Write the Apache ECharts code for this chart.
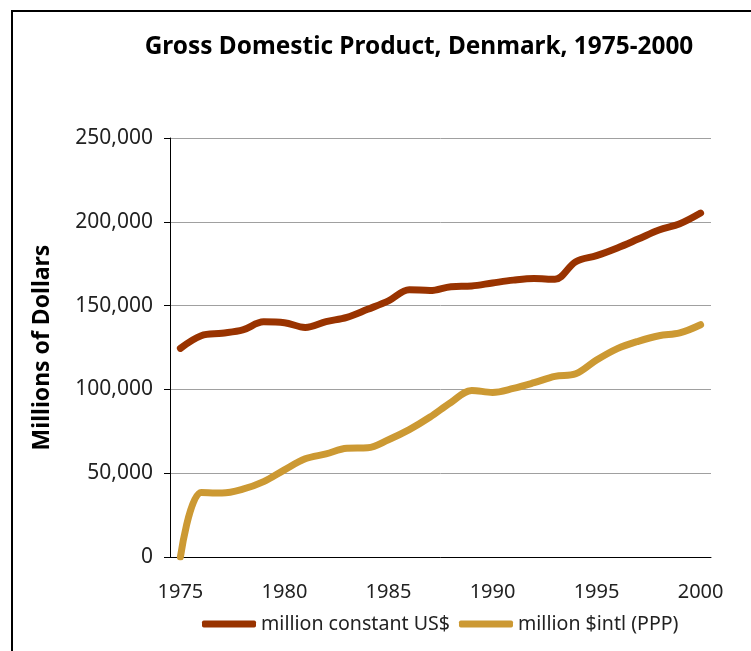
<!DOCTYPE html>
<html>
<head>
<meta charset="utf-8">
<script src="https://cdn.jsdelivr.net/npm/echarts@6/dist/echarts.min.js"></script>
<style>
  html, body { margin: 0; padding: 0; background: #fff; }
  #chart { width: 751px; height: 651px; }
</style>
</head>
<body>
<div id="chart"></div>
<script>
const years = ['1975','1976','1977','1978','1979','1980','1981','1982','1983','1984','1985','1986','1987',
    '1988','1989','1990','1991','1992','1993','1994','1995','1996','1997','1998','1999','2000']
const constantUsd = [124500, 132000, 133500, 135500, 140300, 139800, 137000, 140400, 143000, 147800, 152800,
    159500, 159000, 161300, 161700, 163500, 165200, 166200, 165700, 176200, 179800, 184400, 189700, 195100, 198800, 205200]
const intlPpp = [0, 38500, 38200, 40500, 45000, 52000, 58600, 61500, 64900, 65200, 70000, 76000, 83500,
    92200, 99400, 98200, 100600, 104000, 107800, 109300, 117500, 124300, 128700, 132000, 133700, 138600]
const seriesNames = ['million constant US$', 'million $intl (PPP)']
const seriesColors = ['#993300', '#CC9933']
const font = 'Noto Sans'

window.onload = () => {
    const chart = echarts.init(document.getElementById('chart'))
    const option = {
        animation: false,
        backgroundColor: '#fff',
        graphic: [{
            type: 'rect',
            shape: {x: 12, y: 11, width: 760, height: 680},
            style: {fill: 'none', stroke: '#000', lineWidth: 2},
            silent: true
        }],
        title: {
            text: 'Gross Domestic Product, Denmark, 1975-2000',
            left: 414, top: 30, textAlign: 'center',
            textStyle: {fontFamily: font, fontWeight: 'bold', fontSize: 24.4, color: '#000'}
        },
        grid: {left: 170, right: 40, top: 138, bottom: 94, containLabel: false},
        legend: {
            data: seriesNames,
            left: 202, top: 614, padding: 0,
            itemWidth: 54, itemHeight: 7, itemGap: 9,
            icon: 'roundRect',
            textStyle: {fontFamily: font, fontSize: 19.6, color: '#222'}
        },
        xAxis: {
            type: 'category',
            data: years,
            boundaryGap: true,
            axisLine: {lineStyle: {color: '#000', width: 1}},
            axisTick: {show: false},
            axisLabel: {interval: 4, margin: 25, fontFamily: font, fontSize: 20, color: '#222'}
        },
        yAxis: {
            type: 'value',
            min: 0, max: 250000, interval: 50000,
            name: 'Millions of Dollars',
            nameLocation: 'middle', nameGap: 116,
            nameTextStyle: {fontFamily: font, fontWeight: 'bold', fontSize: 23, color: '#000'},
            axisLine: {show: true, lineStyle: {color: '#000', width: 1}},
            axisTick: {show: true, length: 6, lineStyle: {color: '#000'}},
            axisLabel: {
                margin: 17, fontFamily: font, fontSize: 21, color: '#222',
                formatter: v => v.toLocaleString('en-US')
            },
            splitLine: {lineStyle: {color: '#a0a0a0', width: 1}}
        },
        series: seriesNames.map((n, i) => ({
            name: n,
            type: 'line',
            data: i === 0 ? constantUsd : intlPpp,
            smooth: 0.35,
            symbol: 'none',
            color: seriesColors[i],
            lineStyle: {width: 7, color: seriesColors[i], cap: 'round', join: 'round'}
        }))
    }
    chart.setOption(option)
}
</script>
</body>
</html>
